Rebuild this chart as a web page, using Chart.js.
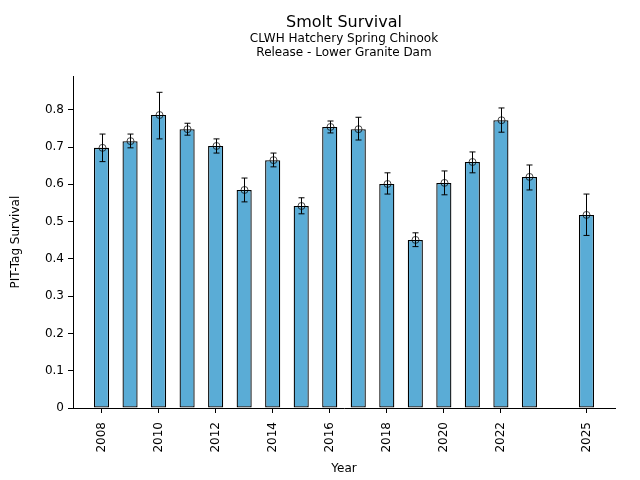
<!DOCTYPE html>
<html>
<head>
<meta charset="utf-8">
<script src="https://cdn.jsdelivr.net/npm/chart.js@4/dist/chart.umd.min.js"></script>
<style>
  html, body { margin: 0; padding: 0; background: #fff; }
  #wrap { width: 640px; height: 480px; }
</style>
</head>
<body>
<div id="wrap"><canvas id="view-canvas"></canvas></div>
<script>
// data
var years    = [2008, 2009, 2010, 2011, 2012, 2013, 2014, 2015, 2016, 2017, 2018, 2019, 2020, 2021, 2022, 2023, 2025];
var survival = [0.698, 0.716, 0.786, 0.748, 0.703, 0.585, 0.665, 0.542, 0.754, 0.748, 0.601, 0.451, 0.604, 0.660, 0.772, 0.620, 0.518];
var errHigh  = [0.735, 0.735, 0.847, 0.764, 0.722, 0.617, 0.684, 0.564, 0.770, 0.780, 0.631, 0.470, 0.636, 0.687, 0.805, 0.652, 0.574];
var errLow   = [0.661, 0.698, 0.722, 0.732, 0.684, 0.553, 0.647, 0.521, 0.738, 0.719, 0.574, 0.433, 0.572, 0.631, 0.740, 0.585, 0.463];
var xTicks   = [2008, 2010, 2012, 2014, 2016, 2018, 2020, 2022, 2025];
var yTicks   = [0, 0.1, 0.2, 0.3, 0.4, 0.5, 0.6, 0.7, 0.8];

var canvas = document.getElementById('view-canvas');

Chart.defaults.font.family = '"DejaVu Sans", sans-serif';
Chart.defaults.font.size = 12;
Chart.defaults.color = '#000';

// error bars + open circle markers on top of the bars
var errorBars = {
    id: 'errorBars',
    afterDatasetsDraw: function (chart) {
        var ctx = chart.ctx;
        var xs = chart.scales.x;
        var ys = chart.scales.y;
        ctx.save();
        years.forEach(function (yr, i) {
            var x = Math.round(xs.getPixelForValue(yr)) + 0.5;
            var hi = ys.getPixelForValue(errHigh[i]);
            var lo = ys.getPixelForValue(errLow[i]);
            var mid = ys.getPixelForValue(survival[i]);
            ctx.strokeStyle = '#000';
            ctx.lineWidth = 1;
            ctx.beginPath();
            ctx.moveTo(x, hi); ctx.lineTo(x, lo);
            ctx.moveTo(x - 3, hi); ctx.lineTo(x + 3, hi);
            ctx.moveTo(x - 3, lo); ctx.lineTo(x + 3, lo);
            ctx.stroke();
            ctx.strokeStyle = 'rgba(0,0,0,0.7)';
            ctx.beginPath();
            ctx.arc(x, mid, 3.5, 0, Math.PI * 2);
            ctx.stroke();
        });
        ctx.restore();
    }
};

function rendererMain() {
    var data = {
        datasets: [{
            data: years.map(function (yr, i) { return { x: yr, y: survival[i] }; }),
            backgroundColor: '#5AACD6',
            borderColor: '#000',
            borderWidth: 1.3,
            borderSkipped: false,
            barPercentage: 0.53,
            categoryPercentage: 1.0
        }]
    };

    var config = {
        type: 'bar',
        data: data,
        plugins: [errorBars],
        options: {
            responsive: true,
            maintainAspectRatio: false,
            animation: false,
            layout: { padding: { left: 0, right: 25, top: 0, bottom: 0 } },
            scales: {
                x: {
                    type: 'linear',
                    min: 2007,
                    max: 2026,
                    offset: false,
                    afterBuildTicks: function (scale) {
                        scale.ticks = xTicks.map(function (v) { return { value: v }; });
                    },
                    afterFit: function (scale) { scale.height = 72; },
                    ticks: {
                        minRotation: 90,
                        maxRotation: 90,
                        padding: 9,
                        callback: function (v) { return String(v); }
                    },
                    grid: { display: true, offset: false, drawOnChartArea: false, drawTicks: true, tickLength: 5, color: '#000' },
                    border: { display: true, color: '#000', width: 1 },
                    title: { display: true, text: 'Year', padding: { top: 0, bottom: 4 } }
                },
                y: {
                    min: 0,
                    max: 0.89,
                    afterBuildTicks: function (scale) {
                        scale.ticks = yTicks.map(function (v) { return { value: v }; });
                    },
                    afterFit: function (scale) { scale.width = 73; },
                    ticks: {
                        padding: 4,
                        callback: function (v) { return v === 0 ? '0' : v.toFixed(1); }
                    },
                    grid: { display: true, offset: false, drawOnChartArea: false, drawTicks: true, tickLength: 5, color: '#000' },
                    border: { display: true, color: '#000', width: 1 },
                    title: { display: true, text: 'PIT-Tag Survival', padding: { top: 9, bottom: 0 } }
                }
            },
            plugins: {
                legend: { display: false },
                tooltip: { enabled: false },
                title: {
                    display: true,
                    fullSize: false,
                    text: 'Smolt Survival',
                    font: { size: 16, weight: 'normal' },
                    padding: { top: 13, bottom: 0 }
                },
                subtitle: {
                    display: true,
                    fullSize: false,
                    text: ['CLWH Hatchery Spring Chinook', 'Release - Lower Granite Dam'],
                    font: { size: 12, lineHeight: 1.17 },
                    color: '#000',
                    padding: { top: 0, bottom: 16 }
                }
            }
        }
    };
    new Chart(canvas, config);
}

rendererMain();
</script>
</body>
</html>
